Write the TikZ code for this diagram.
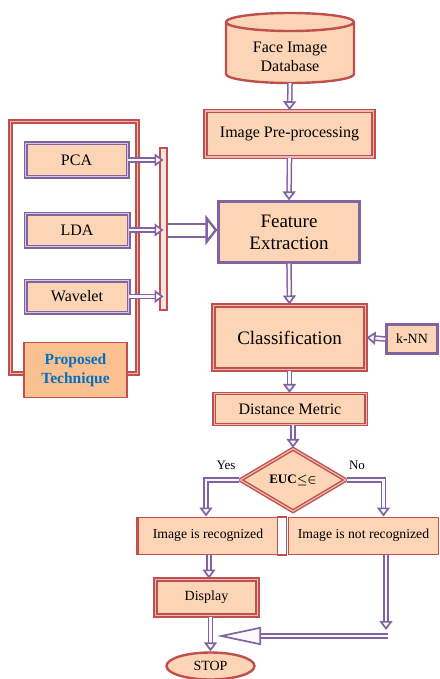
\documentclass[tikz,border=0pt]{standalone}
\usepackage{fontspec}
\setmainfont{Liberation Serif}
\usetikzlibrary{arrows.meta,shapes.geometric}
\definecolor{peach}{HTML}{FBD5B5}
\definecolor{orng}{HTML}{FAC090}
\definecolor{cred}{HTML}{C0504D}
\definecolor{cpink}{HTML}{EFB8B0}
\definecolor{cpurp}{HTML}{8064A2}
\definecolor{cplight}{HTML}{D8C6E6}
\definecolor{carrin}{HTML}{FAF8FC}
\definecolor{cblue}{HTML}{0070C0}
\tikzset{
  base/.style={fill=peach, align=center, inner sep=0pt, font=\fontsize{16}{19}\selectfont},
  redd/.style={base, draw=cred, line width=1.4pt, double=cpink, double distance=1.2pt},
  purd/.style={base, draw=cpurp, line width=1.5pt, double=cplight, double distance=1.0pt},
  purs/.style={base, draw=cpurp, line width=2.2pt},
  reds/.style={base, draw=cred, line width=1pt},
  arr/.style={draw=cpurp, line width=1.5pt, double=carrin, double distance=2.6pt,
    -{Triangle[open, length=9pt, width=13pt, line width=1.7pt, fill=carrin]}},
  bigarr/.style={draw=cpurp, line width=2pt, double=white, double distance=11pt,
    -{Triangle[open, length=12pt, width=30pt, line width=2.4pt, fill=white]}},
  lbl/.style={font=\fontsize{13}{15}\selectfont, inner sep=0pt}
}
\begin{document}
\begin{tikzpicture}[x=1pt,y=-1pt]
\useasboundingbox (0,0) rectangle (439,679);
% cylinder
\path[fill=peach, draw=cred, line width=2.4pt]
  (226,22) -- (226,74) arc[start angle=180, end angle=360, x radius=64pt, y radius=9pt]
  -- (354,22) arc[start angle=0, end angle=180, x radius=64pt, y radius=9pt] -- cycle;
\draw[cred, line width=2.4pt] (226,22) arc[start angle=180, end angle=360, x radius=64pt, y radius=9pt];
\node[base, fill=none, minimum width=128pt, minimum height=70pt] (db) at (290,48) {};
\node[base, fill=none] (dbt) at (290,57) {Face Image\\Database};

\node[redd, line width=1.6pt, minimum width=168pt, minimum height=46pt] (pre) at (289.5,134) {Image Pre-processing};
\node[purs, minimum width=141pt, minimum height=61pt, font=\fontsize{19}{22}\selectfont] (fe) at (289,232) {Feature\\Extraction};
\node[redd, line width=2pt, double distance=1.5pt, minimum width=152pt, minimum height=64pt, font=\fontsize{19}{22}\selectfont] (cls) at (289.5,337.5) {Classification};
\node[purs, minimum width=51pt, minimum height=29pt, font=\fontsize{14}{16}\selectfont] (knn) at (412,339) {k-NN};
\node[redd, line width=1.2pt, double distance=0.8pt, minimum width=152pt, minimum height=31pt] (dm) at (290,409) {Distance Metric};
\node[redd, diamond, aspect=1.66, minimum width=106pt, minimum height=63pt, font=\bfseries\fontsize{13}{15}\selectfont] (dia) at (293,480) {EUC{\boldmath$\leq\in$}};

\node[reds, minimum width=140pt, minimum height=37pt, font=\fontsize{13.7}{16}\selectfont] (rec) at (208,535.5) {Image is recognized};
\node[reds, minimum width=150pt, minimum height=37pt, font=\fontsize{13.7}{16}\selectfont] (notrec) at (363.5,535.5) {Image is not recognized};
\draw[cred, line width=2.5pt] (rec.north west) -- (rec.south west);
\node[draw=cred, fill=white, line width=1.4pt, minimum width=9pt, minimum height=38pt, inner sep=0pt] (gap) at (282,536) {};
\node[redd, line width=2pt, double distance=1.2pt, minimum width=102pt, minimum height=36pt, font=\fontsize{14}{16}\selectfont] (disp) at (206.5,597.5) {Display};
\node[base, ellipse, draw=cred, line width=2.4pt, minimum width=88pt, minimum height=27pt, font=\fontsize{14}{16}\selectfont] (stop) at (210.5,666) {STOP};

% left panel
\node[draw=cred, line width=1.6pt, double=cpink, double distance=1.2pt, fill=white, minimum width=127pt, minimum height=252pt, inner sep=0pt] (frame) at (74,247.5) {};
\node[purd, minimum width=102pt, minimum height=33pt] (pca) at (76.5,160) {PCA};
\node[purd, minimum width=103pt, minimum height=33pt] (lda) at (77,230) {LDA};
\node[purd, minimum width=103pt, minimum height=32pt] (wav) at (77,296.5) {Wavelet};
\node[draw=cred, line width=1.8pt, fill=orng, minimum width=103pt, minimum height=55pt, inner sep=0pt, align=center, text=cblue, font=\bfseries\fontsize{15.5}{19}\selectfont] (prop) at (75.5,370) {Proposed\\Technique};
\node[draw=cred, line width=1.8pt, fill=cpink!40, minimum width=7pt, minimum height=162pt, inner sep=0pt] (bar) at (163.5,229) {};

% connectors
\draw[arr] (db.south) -- (pre.north);
\draw[arr] (pre.south) -- (fe.north);
\draw[arr] (fe.south) -- (cls.north);
\draw[arr] (knn.west) -- (cls.east);
\draw[arr] (cls.south) -- (cls.south |- dm.north);
\draw[arr] (dia.north |- dm.south) -- (dia.north);
\draw[arr] (dia.west) -| ([xshift=-2pt]rec.north);
\draw[arr] (dia.east) -| ([xshift=20pt]notrec.north);
\node[lbl] (yes) at (226,465) {Yes};
\node[lbl] (no) at (357,465) {No};
\draw[arr] ([xshift=1pt]rec.south) -- ([xshift=1pt]rec.south |- disp.north);
\draw[arr] (stop.north |- disp.south) -- (stop.north);
\coordinate (c1) at (386,630);
\coordinate (c2) at (386,636);
\coordinate (c3) at (217,636);
\draw[arr] ([xshift=22.5pt]notrec.south) -- (c1);
\draw[arr, -{Triangle[open, length=44pt, width=18pt, line width=1.7pt, fill=carrin]}] ([xshift=1.5pt]c2) -- (c3);
\draw[arr] (pca.east) -- (pca.east -| bar.center);
\draw[arr] (lda.east) -- (lda.east -| bar.center);
\draw[arr] (wav.east) -- (wav.east -| bar.center);
\draw[bigarr] (bar.east |- lda.east) -- (bar.east |- lda.east -| fe.west);
\end{tikzpicture}
\end{document}
